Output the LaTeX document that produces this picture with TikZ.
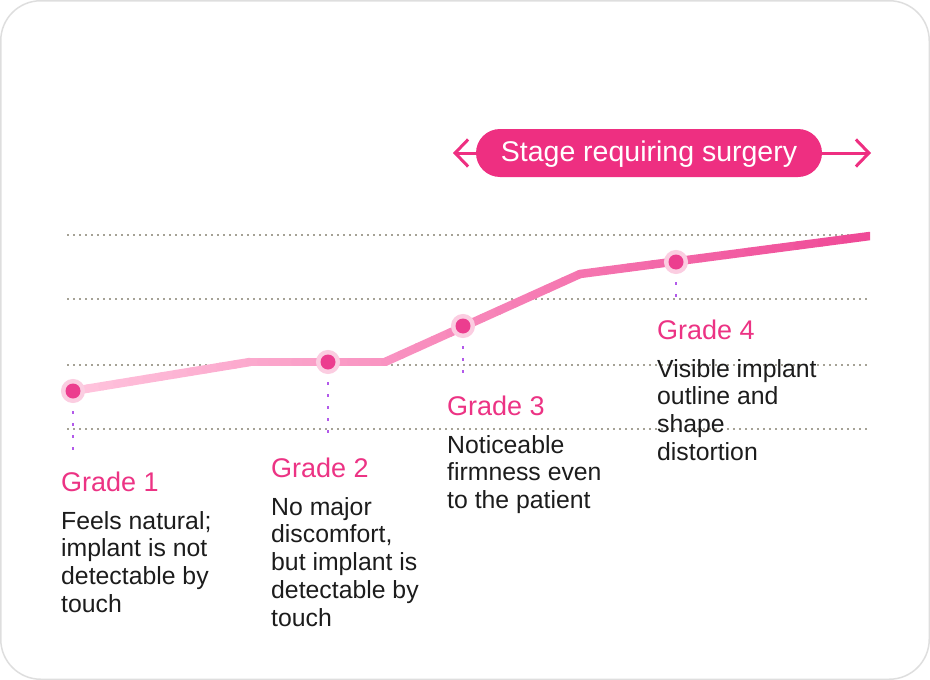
\documentclass[tikz,border=0pt]{standalone}
\usepackage{fontspec}
\setmainfont{Liberation Sans}
\usetikzlibrary{arrows.meta,shapes.misc,calc}
\definecolor{pinkmain}{HTML}{EE2F81}
\definecolor{headpink}{HTML}{EC3384}
\definecolor{lineA}{HTML}{FFC4DD}
\definecolor{lineB}{HTML}{EF4896}
\definecolor{dotc}{HTML}{EC3D8F}
\definecolor{haloc}{HTML}{FBCDE1}
\definecolor{gridc}{HTML}{A5A296}
\definecolor{vdot}{HTML}{B25AEA}
\definecolor{framec}{HTML}{DEDEDE}
\definecolor{bodyc}{HTML}{1C1C1C}
\begin{document}
\begin{tikzpicture}[x=1pt,y=-1pt,
  frame/.style={framec, line width=1.5pt, rounded corners=40pt},
  gridline/.style={gridc, line width=2pt, dash pattern=on 2pt off 4pt},
  vline/.style={vdot, line width=2.6pt, dash pattern=on 2.6pt off 9.4pt, dash phase=4pt},
  gline/.style={line width=8.5pt, line cap=round},
  gdot/.style={circle, inner sep=0pt, minimum size=15pt, fill=dotc, preaction={draw=haloc, line width=9pt}},
  grade/.style={anchor=base west, inner sep=0pt, font=\fontsize{27}{32}\selectfont, text=headpink},
  body/.style={anchor=base west, inner sep=0pt, font=\fontsize{24.8}{28}\selectfont, text=bodyc},
  pill/.style={rounded rectangle, fill=pinkmain, text=white, minimum width=346pt, minimum height=48pt, inner sep=0pt, font=\fontsize{28.5}{34}\selectfont, text height=20.4pt, text depth=2.6pt},
  arr/.style={pinkmain, line width=3pt, line cap=round, line join=round, -{Straight Barb[length=13pt,width=27pt]}}
]
\useasboundingbox (0,0) rectangle (930,680);
\draw[frame] (0.75,0.75) rectangle (929.25,679.25);

% grid lines
\foreach \y [count=\i] in {235,299,365,429}{
  \coordinate (gl\i) at (67,\y);
  \coordinate (gr\i) at (867,\y);
  \draw[gridline] (gl\i) -- (gr\i);
}

% line corner coordinates
\coordinate (p0) at (73,391);
\coordinate (p1) at (250,362);
\coordinate (p2) at (385,362);
\coordinate (p3) at (580,274);
\coordinate (p4) at (870,236);

% grade point coordinates
\coordinate (c1) at (73,391);
\coordinate (c2) at (328,362);
\coordinate (c3) at (463,326);
\coordinate (c4) at (676,262);

% vertical dotted guides
\coordinate (v1) at (73,450);
\coordinate (v2) at (328,437);
\coordinate (v3) at (463,376);
\coordinate (v4) at (676,300);
\draw[vline] (c1) -- (v1);
\draw[vline] (c2) -- (v2);
\draw[vline] (c3) -- (v3);
\draw[vline] (c4) -- (v4);

% gradient line
\begin{scope}
\clip (0,0) rectangle (870,680);
\foreach \a/\b/\ca/\cb in {p0/p1/0/22,p1/p2/22/39,p2/p3/39/64,p3/p4/64/100}{
  \foreach \i in {0,...,11}{
    \pgfmathsetmacro\ta{\i/12}
    \pgfmathsetmacro\tb{(\i+1)/12}
    \pgfmathtruncatemacro\pc{\ca+(\cb-\ca)*(\i+0.5)/12}
    \draw[gline, lineB!\pc!lineA] ($(\a)!\ta!(\b)$) -- ($(\a)!\tb!(\b)$);
  }
}
\end{scope}

% dots
\node[gdot] (g1) at (c1) {};
\node[gdot] (g2) at (c2) {};
\node[gdot] (g3) at (c3) {};
\node[gdot] (g4) at (c4) {};

% texts
\node[grade] (h1) at (61,491) {Grade 1};
\foreach \t [count=\k from 0] in {Feels natural;,implant is not,detectable by,touch}
  \node[body] (b1-\k) at (61,{529+27.75*\k}) {\t};

\node[grade] (h2) at (271,477) {Grade 2};
\foreach \t [count=\k from 0] in {No major,{discomfort,},but implant is,detectable by,touch}
  \node[body] (b2-\k) at (271,{515+27.75*\k}) {\t};

\node[grade] (h3) at (447,415) {Grade 3};
\foreach \t [count=\k from 0] in {Noticeable,firmness even,to the patient}
  \node[body] (b3-\k) at (447,{453+27.75*\k}) {\t};

\node[grade] (h4) at (657,339) {Grade 4};
\foreach \t [count=\k from 0] in {Visible implant,outline and,shape,distortion}
  \node[body] (b4-\k) at (657,{377+27.75*\k}) {\t};

% stage pill with arrows
\node[pill] (stage) at (649,153) {Stage requiring surgery};
\coordinate (la) at (453,153);
\coordinate (ra) at (871,153);
\draw[arr] (stage.west) -- (la);
\draw[arr] (stage.east) -- (ra);
\end{tikzpicture}
\end{document}
